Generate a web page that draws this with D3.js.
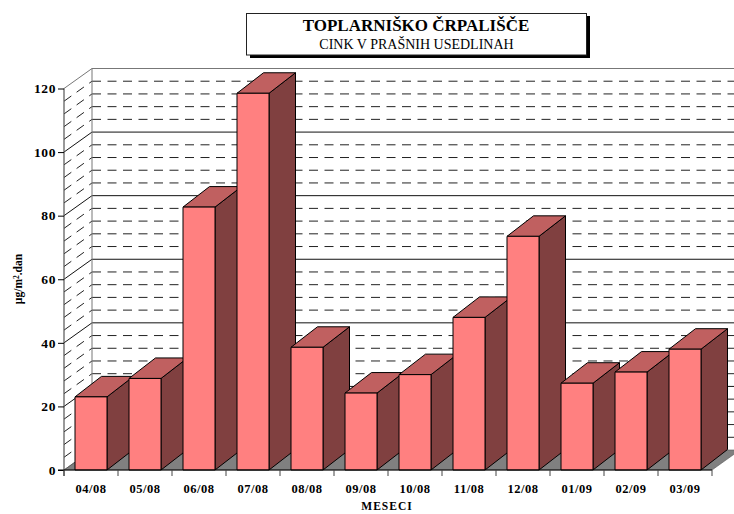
<!DOCTYPE html>
<html><head><meta charset="utf-8">
<script src="https://cdnjs.cloudflare.com/ajax/libs/d3/7.8.5/d3.min.js"></script>
<style>html,body{margin:0;padding:0;background:#fff;overflow:hidden}svg{display:block}text{font-family:"Liberation Serif",serif;fill:#000}</style>
</head><body><svg id="c" width="734" height="514"></svg>
<script>
const categories=["04/08","05/08","06/08","07/08","08/08","09/08","10/08","11/08","12/08","01/09","02/09","03/09"];
const values=[23,28.8,82.7,118.5,38.6,24.2,30,48,73.5,27.3,30.8,38];
const majorTicks=[0,20,40,60,80,100,120];
const minorTicks=[4,8,12,16,24,28,32,36,44,48,52,56,64,68,72,76,84,88,92,96,104,108,112,116];
const titleText="TOPLARNIŠKO ČRPALIŠČE", subtitleText="CINK V PRAŠNIH USEDLINAH", xTitle="MESECI";

const svg=d3.select("#c");
const x=d3.scaleBand().domain(categories).range([64,712]).paddingInner(22/54).paddingOuter(11/54);
const y=d3.scaleLinear().domain([0,120]).range([470,88.5]);
const dx=28,dy=-20,bdx=26.5,bdy=-20.5;

svg.append("polygon").attr("points",[[64,470],[712,470],[712+dx,470+dy],[64+dx,470+dy]].join(" ")).attr("fill","#808080").attr("stroke","#555").attr("stroke-width",0.6);

const grid=svg.append("g").attr("fill","none");
minorTicks.forEach(t=>{
  grid.append("line").attr("x1",64+dx).attr("x2",712+dx).attr("y1",y(t)+dy).attr("y2",y(t)+dy).attr("stroke","#222").attr("stroke-width",1).attr("stroke-dasharray","9 6.5");
  grid.append("line").attr("x1",64).attr("x2",64+dx).attr("y1",y(t)).attr("y2",y(t)+dy).attr("stroke","#222").attr("stroke-width",1).attr("stroke-dasharray","9 6.5");
});
majorTicks.filter(t=>t>0).forEach(t=>{
  grid.append("line").attr("x1",64+dx).attr("x2",712+dx).attr("y1",y(t)+dy).attr("y2",y(t)+dy).attr("stroke",t==120?"#777":"#111").attr("stroke-width",1);
  grid.append("line").attr("x1",64).attr("x2",64+dx).attr("y1",y(t)).attr("y2",y(t)+dy).attr("stroke",t==120?"#777":"#111").attr("stroke-width",1);
});
grid.append("line").attr("x1",64+dx).attr("x2",64+dx).attr("y1",y(120)+dy).attr("y2",470+dy).attr("stroke","#777").attr("stroke-width",1);
grid.append("line").attr("x1",64).attr("x2",64+dx).attr("y1",470).attr("y2",470+dy).attr("stroke","#555").attr("stroke-width",0.8);

const bars=svg.append("g").selectAll("g").data(categories).join("g");
bars.each(function(c,i){
  const g=d3.select(this),l=x(c),r=l+x.bandwidth(),t=y(values[i]),b=y(0);
  const st={stroke:"#000","stroke-width":1,"stroke-linejoin":"round"};
  const poly=(pts,fill)=>{const p=g.append("polygon").attr("points",pts.join(" ")).attr("fill",fill);Object.entries(st).forEach(([k,v])=>p.attr(k,v));};
  poly([[r,b],[r+bdx,b+bdy],[r+bdx,t+bdy],[r,t]],"#804040");
  poly([[l,t],[r,t],[r+bdx,t+bdy],[l+bdx,t+bdy]],"#C06060");
  poly([[l,t],[r,t],[r,b],[l,b]],"#FF8080");
});

const yAxis=svg.append("g").attr("transform","translate(64,0)").call(d3.axisLeft(y).tickValues(majorTicks).tickSize(6).tickPadding(2));
yAxis.select(".domain").attr("stroke","#555").attr("stroke-width",1.2).attr("d","M0,88.5V476");
yAxis.selectAll(".tick line").attr("stroke","#000").attr("stroke-width",1);
yAxis.selectAll("text").attr("font-family","Liberation Serif").attr("font-weight","bold").attr("font-size",13.5).attr("letter-spacing",0.6);

svg.append("line").attr("x1",58).attr("x2",712).attr("y1",470).attr("y2",470).attr("stroke","#000").attr("stroke-width",1);
const edges=d3.range(categories.length+1).map(i=>64+i*x.step());
svg.append("g").selectAll("line").data(edges).join("line").attr("x1",d=>d).attr("x2",d=>d).attr("y1",470).attr("y2",476).attr("stroke","#444").attr("stroke-width",1);
svg.append("g").selectAll("text").data(categories).join("text")
  .attr("x",c=>x(c)+x.bandwidth()/2).attr("y",492.5).attr("text-anchor","middle")
  .attr("font-weight","bold").attr("font-size",12.5).attr("letter-spacing",0.5).text(c=>c);

svg.append("text").attr("x",387).attr("y",510).attr("text-anchor","middle").attr("font-weight","bold").attr("font-size",11.5).attr("letter-spacing",1).text(xTitle);

const yt=svg.append("text").attr("transform","translate(22,279) rotate(-90)").attr("text-anchor","middle").attr("font-weight","bold").attr("font-size",11.5);
yt.append("tspan").text("µg/m");
yt.append("tspan").attr("dy",-3).attr("font-size",7.5).text("2");
yt.append("tspan").attr("dy",3).text(".dan");

svg.append("rect").attr("x",250).attr("y",16).attr("width",340).attr("height",42).attr("fill","#000");
svg.append("rect").attr("x",246.5).attr("y",13.5).attr("width",340).attr("height",41.5).attr("fill","#fff").attr("stroke","#222").attr("stroke-width",1);
svg.append("text").attr("x",416).attr("y",30.5).attr("text-anchor","middle").attr("font-weight","bold").attr("font-size",17).text(titleText);
svg.append("text").attr("x",416.5).attr("y",49).attr("text-anchor","middle").attr("font-size",14).text(subtitleText);
</script></body></html>
